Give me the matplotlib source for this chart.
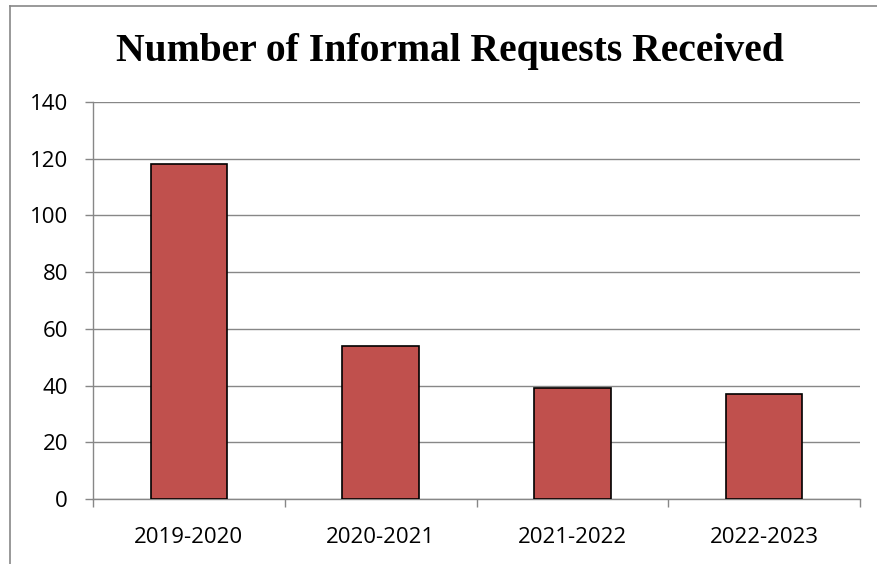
import matplotlib
matplotlib.use("Agg")
import matplotlib.pyplot as plt
from matplotlib.lines import Line2D

years = ["2019-2020", "2020-2021", "2021-2022", "2022-2023"]
requests = [118, 54, 39, 37]

fig = plt.figure(figsize=(8.77, 5.64), dpi=100)
ax = fig.add_axes([93 / 877, 65 / 564, 767 / 877, 397 / 564])

pos = range(len(years))
ax.bar(pos, requests, width=0.4, color="#C0504D", edgecolor="black", linewidth=1.2, zorder=3)

grey = "#878787"
ax.set_ylim(0, 140)
ax.set_yticks(range(0, 141, 20))
ax.set_xlim(-0.5, len(years) - 0.5)
ax.set_xticks(list(pos))
ax.set_xticklabels(years)
ax.set_xticks([i - 0.5 for i in range(len(years) + 1)], minor=True)
ax.grid(axis="y", color=grey, linewidth=1.0, zorder=0)

for side in ["top", "right"]:
    ax.spines[side].set_visible(False)
for side in ["left", "bottom"]:
    ax.spines[side].set_color(grey)
    ax.spines[side].set_linewidth(1.0)

ax.tick_params(axis="x", which="major", length=0, pad=20, labelsize=16)
ax.tick_params(axis="x", which="minor", length=6, color=grey, width=1.0)
ax.tick_params(axis="y", length=6, color=grey, width=1.0, pad=12, labelsize=16)
for lbl in ax.get_xticklabels() + ax.get_yticklabels():
    lbl.set_fontfamily("Open Sans")

fig.text(450 / 877, 1 - 52 / 564, "Number of Informal Requests Received",
         ha="center", va="center", fontsize=28.5, fontweight="bold",
         fontfamily="Liberation Serif")

# chart frame
fig.add_artist(Line2D([10 / 877, 10 / 877], [0, 1 - 6 / 564], color=grey, linewidth=1.2))
fig.add_artist(Line2D([10 / 877, 1], [1 - 6 / 564, 1 - 6 / 564], color=grey, linewidth=1.2))

fig.savefig("out.png", dpi=100)
